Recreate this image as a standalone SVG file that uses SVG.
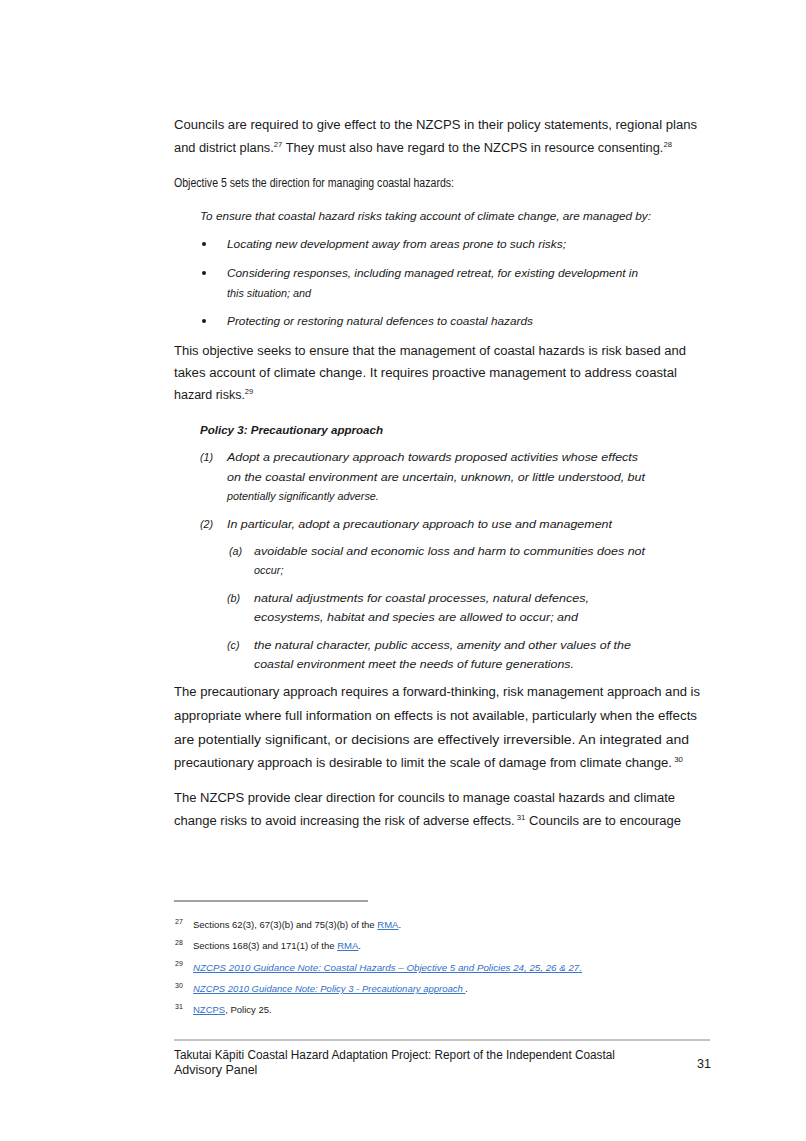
<svg xmlns="http://www.w3.org/2000/svg" width="806" height="1141" viewBox="0 0 806 1141">
<style>
.b{font-family:"Liberation Sans",Arial,sans-serif;font-size:12.5px;fill:#1a1a1a}
.i{font-family:"Liberation Sans",Arial,sans-serif;font-size:10.8px;font-style:italic;fill:#1a1a1a}
.f{font-family:"Liberation Sans",Arial,sans-serif;font-size:9.5px;fill:#1a1a1a}
.n{font-family:"Liberation Sans",Arial,sans-serif;font-size:7px;fill:#1a1a1a}
.l{fill:#2f6fc9;text-decoration:underline}
.s{font-size:7.5px}
</style>
<rect width="806" height="1141" fill="#fff"/>
<g id="body">
<text class="b" x="174" y="129" textLength="523" lengthAdjust="spacingAndGlyphs">Councils are required to give effect to the NZCPS in their policy statements, regional plans</text>
<text class="b" x="174" y="152" textLength="498" lengthAdjust="spacingAndGlyphs">and district plans.<tspan class="s" dy="-5">27</tspan><tspan dy="5"> They must also have regard to the NZCPS in resource consenting.</tspan><tspan class="s" dy="-5">28</tspan></text>
<text class="b" x="174" y="187" textLength="280" lengthAdjust="spacingAndGlyphs">Objective 5 sets the direction for managing coastal hazards:</text>
<text class="i" x="200" y="220" textLength="451" lengthAdjust="spacingAndGlyphs">To ensure that coastal hazard risks taking account of climate change, are managed by:</text>
<g class="b"><circle cx="204" cy="244" r="2" fill="#1a1a1a"/><circle cx="204" cy="273" r="2" fill="#1a1a1a"/><circle cx="204" cy="321" r="2" fill="#1a1a1a"/></g>
<text class="i" x="227" y="248" textLength="339" lengthAdjust="spacingAndGlyphs">Locating new development away from areas prone to such risks;</text>
<text class="i" x="227" y="277" textLength="411" lengthAdjust="spacingAndGlyphs">Considering responses, including managed retreat, for existing development in</text>
<text class="i" x="227" y="297">this situation; and</text>
<text class="i" x="227" y="325" textLength="306" lengthAdjust="spacingAndGlyphs">Protecting or restoring natural defences to coastal hazards</text>
<text class="b" x="174" y="355" textLength="512" lengthAdjust="spacingAndGlyphs">This objective seeks to ensure that the management of coastal hazards is risk based and</text>
<text class="b" x="174" y="377" textLength="503" lengthAdjust="spacingAndGlyphs">takes account of climate change. It requires proactive management to address coastal</text>
<text class="b" x="174" y="399">hazard risks.<tspan class="s" dy="-5">29</tspan></text>
<text class="i" x="200" y="434" font-weight="bold" textLength="183" lengthAdjust="spacingAndGlyphs">Policy 3: Precautionary approach</text>
<text class="i" x="200" y="461">(1)</text>
<text class="i" x="227" y="461" textLength="411" lengthAdjust="spacingAndGlyphs">Adopt a precautionary approach towards proposed activities whose effects</text>
<text class="i" x="227" y="481" textLength="418" lengthAdjust="spacingAndGlyphs">on the coastal environment are uncertain, unknown, or little understood, but</text>
<text class="i" x="227" y="500">potentially significantly adverse.</text>
<text class="i" x="200" y="528">(2)</text>
<text class="i" x="227" y="528" textLength="385" lengthAdjust="spacingAndGlyphs">In particular, adopt a precautionary approach to use and management</text>
<text class="i" x="229" y="555">(a)</text>
<text class="i" x="254" y="555" textLength="391" lengthAdjust="spacingAndGlyphs">avoidable social and economic loss and harm to communities does not</text>
<text class="i" x="254" y="574">occur;</text>
<text class="i" x="227" y="602">(b)</text>
<text class="i" x="254" y="602" textLength="335" lengthAdjust="spacingAndGlyphs">natural adjustments for coastal processes, natural defences,</text>
<text class="i" x="254" y="621" textLength="324" lengthAdjust="spacingAndGlyphs">ecosystems, habitat and species are allowed to occur; and</text>
<text class="i" x="227" y="649">(c)</text>
<text class="i" x="254" y="649" textLength="377" lengthAdjust="spacingAndGlyphs">the natural character, public access, amenity and other values of the</text>
<text class="i" x="254" y="668" textLength="320" lengthAdjust="spacingAndGlyphs">coastal environment meet the needs of future generations.</text>
<text class="b" x="174" y="696" textLength="526" lengthAdjust="spacingAndGlyphs">The precautionary approach requires a forward-thinking, risk management approach and is</text>
<text class="b" x="174" y="720" textLength="523" lengthAdjust="spacingAndGlyphs">appropriate where full information on effects is not available, particularly when the effects</text>
<text class="b" x="174" y="744" textLength="515" lengthAdjust="spacingAndGlyphs">are potentially significant, or decisions are effectively irreversible. An integrated and</text>
<text class="b" x="174" y="767" textLength="509" lengthAdjust="spacingAndGlyphs">precautionary approach is desirable to limit the scale of damage from climate change.<tspan class="s" dy="-5"> 30</tspan></text>
<text class="b" x="174" y="802" textLength="501" lengthAdjust="spacingAndGlyphs">The NZCPS provide clear direction for councils to manage coastal hazards and climate</text>
<text class="b" x="174" y="825" textLength="507" lengthAdjust="spacingAndGlyphs">change risks to avoid increasing the risk of adverse effects.<tspan class="s" dy="-5"> 31</tspan><tspan dy="5"> Councils are to encourage</tspan></text>
</g>
<g id="footnotes">
<line x1="174" y1="901" x2="368" y2="901" stroke="#444" stroke-width="1"/>
<text class="n" x="175" y="924">27</text>
<text class="f" x="193" y="928">Sections 62(3), 67(3)(b) and 75(3)(b) of the <tspan class="l">RMA</tspan>.</text>
<text class="n" x="175" y="945">28</text>
<text class="f" x="193" y="949">Sections 168(3) and 171(1) of the <tspan class="l">RMA</tspan>.</text>
<text class="n" x="175" y="966">29</text>
<text class="f l" x="193" y="971" font-style="italic" textLength="389" lengthAdjust="spacingAndGlyphs">NZCPS 2010 Guidance Note: Coastal Hazards – Objective 5 and Policies 24, 25, 26 &amp; 27.</text>
<text class="n" x="175" y="988">30</text>
<text class="f" x="193" y="992" font-style="italic"><tspan class="l">NZCPS 2010 Guidance Note: Policy 3 - Precautionary approach </tspan>.</text>
<text class="n" x="175" y="1009">31</text>
<text class="f" x="193" y="1013"><tspan class="l">NZCPS</tspan>, Policy 25.</text>
</g>
<g id="footer">
<line x1="174" y1="1040" x2="710" y2="1040" stroke="#888" stroke-width="1"/>
<text class="b" x="174" y="1059" font-size="12" textLength="441" lengthAdjust="spacingAndGlyphs">Takutai Kāpiti Coastal Hazard Adaptation Project: Report of the Independent Coastal</text>
<text class="b" x="174" y="1074" font-size="12">Advisory Panel</text>
<text class="b" x="697" y="1068" font-size="12">31</text>
</g>
</svg>
